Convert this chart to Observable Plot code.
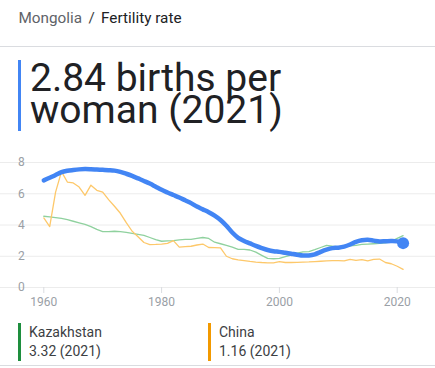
<!DOCTYPE html>
<html>
<head>
<meta charset="utf-8">
<script src="https://cdn.jsdelivr.net/npm/d3@7"></script>
<script src="https://cdn.jsdelivr.net/npm/@observablehq/plot@0.6"></script>
<style>
  html, body { margin: 0; padding: 0; background: #fff; }
  body { width: 435px; height: 368px; position: relative; overflow: hidden; font-family: Roboto, "Noto Sans", sans-serif; }
  #crumb { position: absolute; left: 18.5px; top: 6px; font-size: 15.3px; line-height: 24px; color: #202124; white-space: nowrap; }
  #crumb .c { color: #5f6368; }
  #crumb .s { margin: 0 2.5px; color: #3c4043; }
  #sep { position: absolute; left: 0; top: 46px; width: 435px; height: 1px; background: #dadce0; }
  #big { position: absolute; left: 18px; top: 60px; height: 71px; border-left: 3px solid #4285f4; }
  #big .l { position: absolute; left: 9px; font-size: 39px; line-height: 32px; height: 32px; color: #202124; white-space: nowrap; }
  #chart { position: absolute; left: 0; top: 150px; }
  .leg { position: absolute; top: 323px; height: 38px; border-left: 3px solid; padding-left: 8px; font-size: 14px; line-height: 19px; color: #3c4043; white-space: nowrap; }
  #bottom { position: absolute; left: 0; top: 365px; width: 435px; height: 1px; background: #dadce0; }
</style>
</head>
<body>
<div id="crumb"><span class="c">Mongolia</span> <span class="s">/</span> Fertility rate</div>
<div id="sep"></div>
<div id="big"><div class="l" style="top:2px">2.84 births per</div><div class="l" style="top:34px">woman (2021)</div></div>
<div id="chart"></div>
<div class="leg" style="left:18px;border-color:#1e8e3e"><span>Kazakhstan</span><br><span>3.32 (2021)</span></div>
<div class="leg" style="left:208px;border-color:#f29900"><span>China</span><br><span>1.16 (2021)</span></div>
<div id="bottom"></div>
<script>
const years = d3.range(1960, 2022);
const mongolia = [6.86,7.02,7.2,7.38,7.47,7.52,7.56,7.58,7.57,7.55,7.53,7.51,7.48,7.4,7.28,7.14,6.98,6.82,6.65,6.45,6.25,6.08,5.92,5.76,5.58,5.4,5.18,5.0,4.82,4.6,4.32,3.95,3.52,3.18,2.98,2.82,2.66,2.52,2.4,2.32,2.28,2.22,2.16,2.1,2.05,2.05,2.12,2.28,2.42,2.52,2.55,2.62,2.75,2.92,3.02,3.05,3.0,2.95,2.96,2.97,2.95,2.84];
const kazakhstan = [4.56,4.52,4.47,4.42,4.34,4.24,4.14,4.04,3.9,3.72,3.58,3.58,3.6,3.58,3.53,3.46,3.4,3.33,3.2,3.06,2.96,2.98,3.0,3.05,3.08,3.08,3.14,3.2,3.14,2.9,2.8,2.7,2.58,2.44,2.44,2.4,2.26,2.06,1.86,1.84,1.86,1.98,2.08,2.2,2.28,2.3,2.42,2.56,2.7,2.64,2.6,2.62,2.66,2.7,2.76,2.78,2.8,2.82,2.86,2.96,3.14,3.32];
const china = [4.45,3.9,6.1,7.42,6.75,6.69,6.43,5.9,6.55,6.22,6.1,5.62,5.2,4.75,4.15,3.6,3.25,2.88,2.75,2.76,2.78,2.82,3.0,2.58,2.62,2.64,2.72,2.78,2.56,2.55,2.54,2.0,1.84,1.77,1.72,1.67,1.63,1.6,1.58,1.58,1.65,1.6,1.6,1.61,1.63,1.64,1.66,1.68,1.7,1.72,1.72,1.7,1.8,1.74,1.78,1.7,1.8,1.82,1.6,1.52,1.36,1.16];
const yTicks = [0, 2, 4, 6, 8];
const xTicks = [1960, 1980, 2000, 2020];

const mk = (arr) => years.map((y, i) => ({year: y, value: arr[i]}));
const mData = mk(mongolia), kData = mk(kazakhstan), cData = mk(china);
const last = mData[mData.length - 1];

const ml = 43.3, mr = 38.3;
const chart = Plot.plot({
  width: 435,
  height: 170,
  marginLeft: ml,
  marginRight: mr,
  marginTop: 12,
  marginBottom: 33,
  style: {fontFamily: "Roboto, sans-serif", fontSize: "12px", color: "#9aa0a6", overflow: "visible"},
  x: {domain: [1960, 2020]},
  y: {domain: [0, 8]},
  marks: [
    Plot.ruleY(yTicks, {stroke: "#ececec", strokeWidth: 1, insetLeft: -ml, insetRight: -mr}),
    Plot.axisY({ticks: yTicks, tickSize: 0, tickPadding: 19, label: null, fill: "#9aa0a6", fontSize: 12}),
    Plot.axisX({ticks: xTicks, tickFormat: d => String(d), tickSize: 6, tickPadding: 4, label: null, stroke: "#dadce0", fill: "#9aa0a6", fontSize: 12}),
    Plot.line(kData, {x: "year", y: "value", stroke: "#8fd19e", strokeWidth: 1.3}),
    Plot.line(cData, {x: "year", y: "value", stroke: "#fdc86a", strokeWidth: 1.3}),
    Plot.line(mData, {x: "year", y: "value", stroke: "#4285f4", strokeWidth: 4.5, curve: "catmull-rom"}),
    Plot.dot([last], {x: "year", y: "value", r: 6, fill: "#4285f4", stroke: "none"})
  ]
});
document.getElementById("chart").appendChild(chart);
</script>
</body>
</html>
